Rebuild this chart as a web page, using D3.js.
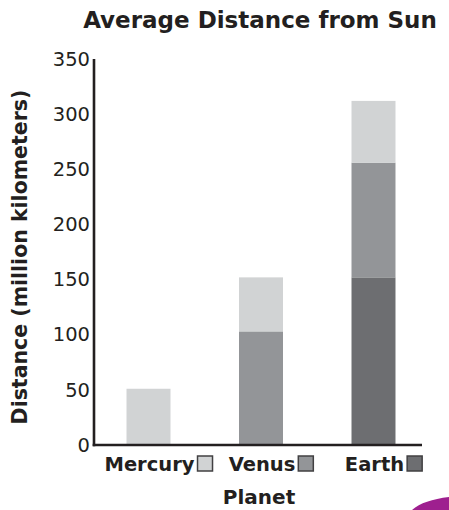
<!DOCTYPE html>
<html>
<head>
<meta charset="utf-8">
<script src="https://cdn.jsdelivr.net/npm/d3@7"></script>
<style>
  html, body { margin: 0; padding: 0; background: #ffffff; }
  svg { display: block; }
  text { fill: #231f20; font-family: "DejaVu Sans", Verdana, sans-serif; }
</style>
</head>
<body>
<svg id="chart" width="449" height="510"></svg>
<script>
// Planets along the x axis
const planets = ["Mercury", "Venus", "Earth"];

// Stacked segment heights (million km), bottom to top
const earthSegment   = [0, 0, 152];
const venusSegment   = [0, 103, 104];
const mercurySegment = [51, 49, 56];

// Y-axis ticks
const yTicks = [0, 50, 100, 150, 200, 250, 300, 350];

const segmentKeys   = ["Earth", "Venus", "Mercury"];
const segmentColors = { Mercury: "#d1d3d4", Venus: "#939598", Earth: "#6d6e71" };

const rows = planets.map((p, i) => ({
  planet: p,
  Earth: earthSegment[i],
  Venus: venusSegment[i],
  Mercury: mercurySegment[i]
}));

const svg = d3.select("#chart");
const ink = "#231f20";

const axisLeft = 94, axisRight = 422, axisTop = 59, axisBottom = 445;

const x = d3.scaleBand()
  .domain(planets)
  .range([axisLeft, 428])
  .paddingInner(0.609)
  .paddingOuter(0.289);

const y = d3.scaleLinear()
  .domain([0, 350])
  .range([axisBottom, axisTop]);

const stacked = d3.stack().keys(segmentKeys)(rows);

// Bars
svg.append("g")
  .selectAll("g")
  .data(stacked)
  .join("g")
  .attr("fill", d => segmentColors[d.key])
  .selectAll("rect")
  .data(d => d.filter(s => s[1] - s[0] > 0))
  .join("rect")
  .attr("x", d => x(d.data.planet))
  .attr("width", x.bandwidth())
  .attr("y", d => y(d[1]))
  .attr("height", d => y(d[0]) - y(d[1]));

// Y axis: labels only, drawn through d3.axisLeft
const yAxis = svg.append("g")
  .attr("transform", `translate(${axisLeft},0)`)
  .call(d3.axisLeft(y).tickValues(yTicks).tickSize(0).tickPadding(4));
yAxis.select(".domain").remove();
yAxis.selectAll("text")
  .attr("font-size", 19.5)
  .attr("font-family", "'DejaVu Sans', Verdana, sans-serif")
  .attr("fill", ink);

// Axis lines
svg.append("line")
  .attr("x1", axisLeft).attr("x2", axisLeft)
  .attr("y1", axisTop).attr("y2", axisBottom + 1.2)
  .attr("stroke", ink).attr("stroke-width", 2.6);
svg.append("line")
  .attr("x1", axisLeft - 1.3).attr("x2", axisRight)
  .attr("y1", axisBottom).attr("y2", axisBottom)
  .attr("stroke", ink).attr("stroke-width", 2.6);

// Category labels, each followed by its colour key square
const box = 15, gap = 3;
planets.forEach(p => {
  const g = svg.append("g");
  const t = g.append("text")
    .attr("font-size", 19.5)
    .attr("font-weight", "bold")
    .attr("y", 471)
    .text(p);
  const w = t.node().getComputedTextLength();
  const total = w + gap + box;
  const start = x(p) + x.bandwidth() / 2 + 10 - total / 2;
  t.attr("x", start);
  g.append("rect")
    .attr("x", start + w + gap)
    .attr("y", 456)
    .attr("width", box)
    .attr("height", box)
    .attr("fill", segmentColors[p])
    .attr("stroke", "#414042")
    .attr("stroke-width", 1.5);
});

// Titles
svg.append("text")
  .attr("x", 260).attr("y", 28)
  .attr("text-anchor", "middle")
  .attr("font-size", 23)
  .attr("font-weight", "bold")
  .text("Average Distance from Sun");

svg.append("text")
  .attr("x", 259).attr("y", 504)
  .attr("text-anchor", "middle")
  .attr("font-size", 20)
  .attr("font-weight", "bold")
  .text("Planet");

svg.append("text")
  .attr("transform", "translate(27,257) rotate(-90)")
  .attr("text-anchor", "middle")
  .attr("font-size", 20.5)
  .attr("font-weight", "bold")
  .text("Distance (million kilometers)");

// Corner ribbon
svg.append("path")
  .attr("d", "M412,510 C420,503 432,499 449,497 L449,510 Z")
  .attr("fill", "#9e1f8f");
</script>
</body>
</html>
